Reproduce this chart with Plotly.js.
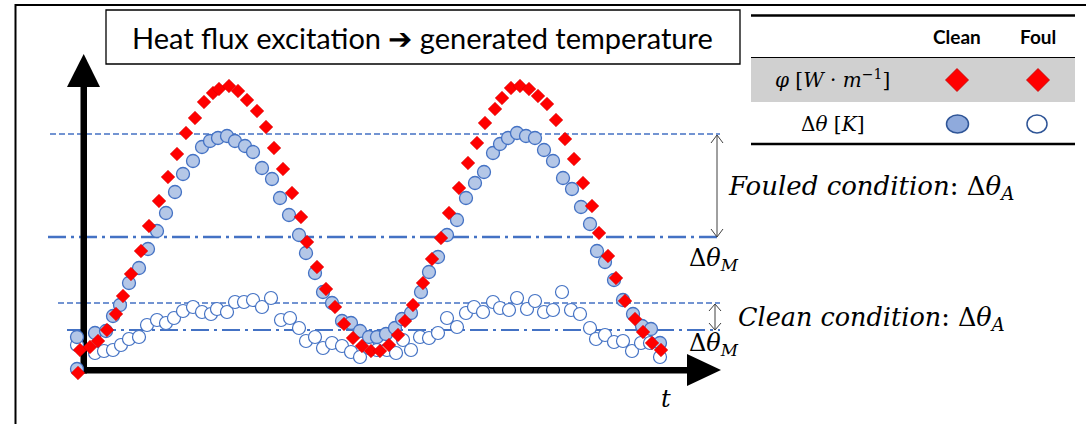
<!DOCTYPE html>
<html>
<head>
<meta charset="utf-8">
<script src="https://cdn.plot.ly/plotly-3.0.1.min.js"></script>
<style>html,body{margin:0;padding:0;background:#fff;}#chart{width:1086px;height:424px;}</style>
</head>
<body>
<div id="chart"></div>
<script>
// ---- data (time t, value v; arbitrary units) ----
const fluxT = [-2,0,10,18,27,36,43,51,61,69,79,88,97,106,115,124,133,139,149,158,167,177,186,194,203,212,221,227,237,246,255,264,273,282,291,300,309,318,325,333,343,352,361,369,379,388,397,405,415,422,431,440,449,458,467,476,485,494,503,512,519,528,536,545,555,563,572,581];
const fluxV = [-1,22,25,31,42,58,76,98,121,146,171,195,218,239,254,270,279,283,286,281,272,261,245,224,203,179,155,130,105,83,65,48,34,26,21,21,27,37,51,67,89,113,134,159,184,209,229,249,263,274,284,286,283,276,268,252,233,213,189,166,139,116,94,71,53,40,29,22];

const cleanT = [-3,-3,15,26,33,40,49,59,68,77,86,95,103,113,122,130,138,147,155,165,173,182,192,200,209,219,226,235,243,252,262,271,280,289,297,306,315,322,331,341,349,358,367,377,386,395,404,413,420,428,437,446,455,464,473,483,492,501,510,517,525,534,543,553,562,571,580];
const cleanV = [3,35,39,41,56,67,89,104,123,141,159,180,198,211,225,231,234,236,231,226,220,204,193,174,157,137,119,99,80,69,51,49,41,35,35,38,44,53,59,80,100,115,137,152,174,189,200,219,228,234,239,236,234,222,211,194,183,165,148,121,110,92,72,58,46,43,29];

const foulT = [-3,15,24,33,41,49,59,67,77,86,94,103,113,122,131,137,147,155,164,173,182,191,201,210,219,226,235,243,252,262,271,280,289,297,307,316,323,331,340,349,358,367,377,386,394,403,413,420,429,437,447,455,464,473,482,491,500,510,516,525,534,543,552,561,570,580];
const foulV = [27,19,21,22,27,33,35,47,52,49,54,61,65,60,58,63,60,70,70,72,65,74,52,54,44,31,35,24,29,26,20,15,24,22,22,19,32,22,35,34,39,54,45,59,65,60,70,64,62,74,63,71,60,62,80,62,58,44,33,37,30,31,21,29,29,15];

// reference levels (same value units)
const fouledMax = 238, fouledMean = 135;
const cleanMax = 69, cleanMean = 42;

// ---- geometry helpers (figure pixel -> axis units) ----
const W = 1086, H = 424, OX = 80, OY = 372;
const px = x => x - OX;
const py = y => OY - y;
const yp = v => OY - v; // value -> pixel y

const BLUE = '#4472C4';
const shapes = [];
const ann = [];

function line(x0,y0,x1,y1,color,width,dash,layer){
  shapes.push({type:'line',xref:'x',yref:'y',x0:px(x0),y0:py(y0),x1:px(x1),y1:py(y1),
    line:{color:color,width:width,dash:dash||'solid'},layer:layer||'below'});
}
function path(pts,fill,lcolor,lwidth,closed,layer){
  let d = pts.map((p,i)=>(i?'L':'M')+px(p[0])+','+py(p[1])).join(' ');
  if(closed) d += ' Z';
  shapes.push({type:'path',xref:'x',yref:'y',path:d,fillcolor:fill||'rgba(0,0,0,0)',
    line:{color:lcolor||'rgba(0,0,0,0)',width:lwidth||0},layer:layer||'below'});
}
function rect(x0,y0,x1,y1,fill,lcolor,lwidth,layer){
  shapes.push({type:'rect',xref:'x',yref:'y',x0:px(x0),y0:py(y0),x1:px(x1),y1:py(y1),
    fillcolor:fill||'rgba(0,0,0,0)',line:{color:lcolor||'rgba(0,0,0,0)',width:lwidth||0},layer:layer||'below'});
}
function ellipse(x0,y0,x1,y1,fill,lcolor,lwidth){
  shapes.push({type:'circle',xref:'x',yref:'y',x0:px(x0),y0:py(y0),x1:px(x1),y1:py(y1),
    fillcolor:fill,line:{color:lcolor,width:lwidth},layer:'above'});
}
function text(x,y,t,size,family,xanchor,color,extra){
  ann.push(Object.assign({xref:'x',yref:'y',x:px(x),y:py(y),text:t,showarrow:false,
    xanchor:xanchor||'center',yanchor:'middle',
    font:{size:size,family:family,color:color||'#000'}},extra||{}));
}

// outer frame
path([[15.5,424],[15.5,5],[1086,5]],null,'#000',2,false);
// title box
rect(106,10,740,64,'#fff','#000',1.3);
text(422,37,'Heat flux excitation ➔ generated temperature',29,'Lato, "Noto Sans", sans-serif');

// table
rect(751,57.5,1075,102,'#D0D0D0',null,0);
line(751,15.5,1075,15.5,'#000',2.5);
line(751,57.5,1075,57.5,'#000',1);
line(751,144,1075,144,'#000',2.5);
text(957,36,'<b>Clean</b>',19,'Lato, "Open Sans", sans-serif');
text(1038,36,'<b>Foul</b>',19,'Lato, "Open Sans", sans-serif');
const MATH = '"DejaVu Serif", serif';
text(832,79,'<i>φ</i> [<i>W</i> · <i>m</i><sup>−1</sup>]',20,MATH);
text(832,124,'Δ<i>θ</i> [<i>K</i>]',20,MATH);
path([[957,68.5],[968.5,80],[957,91.5],[945.5,80]],'#FF0000','#C00000',0.8,true,'above');
path([[1038,68.5],[1049.5,80],[1038,91.5],[1026.5,80]],'#FF0000','#C00000',0.8,true,'above');
ellipse(946.5,115,968.5,133,'#8FAADC','#2F5597',1.5);
ellipse(1027,115,1047,133,'#ffffff','#2F5597',1.5);

// reference level lines (values from the data levels)
line(50,yp(fouledMax),720,yp(fouledMax),BLUE,1.3,'6px,3px');
line(48,yp(fouledMean),720,yp(fouledMean),BLUE,2.3,'18px,5px,3px,5px');
line(58,yp(cleanMax),720,yp(cleanMax),BLUE,1.3,'6px,3px');
line(67,yp(cleanMean),720,yp(cleanMean),BLUE,2.1,'18px,5px,3px,5px');

// amplitude arrows
function dbl(x,y0,y1,hw,hh){
  line(x,y0,x,y1,'#404040',1);
  path([[x-hw,y0+hh],[x,y0],[x+hw,y0+hh]],null,'#404040',1,false);
  path([[x-hw,y1-hh],[x,y1],[x+hw,y1-hh]],null,'#404040',1,false);
}
dbl(717,yp(fouledMax)+1,yp(fouledMean),6,8);
dbl(715,yp(cleanMax)+1,yp(cleanMean),6,7);

// axes
rect(80.5,87,87,373.5,'#000',null,0);
path([[67,87],[100,87],[83.7,54]],'#000',null,0,true);
rect(80.5,367,690,373.5,'#000',null,0);
path([[687,354],[687,386],[721,370]],'#000',null,0,true);

// labels
text(726,187,'<i>Fouled condition</i>: Δ<i>θ</i><sub><i>A</i></sub>',26,MATH,'left');
text(736,318,'<i>Clean condition</i>: Δ<i>θ</i><sub><i>A</i></sub>',25.5,MATH,'left');
text(687,259,'Δ<i>θ</i><sub><i>M</i></sub>',24,MATH,'left');
text(687,344,'Δ<i>θ</i><sub><i>M</i></sub>',24,MATH,'left');
text(666,399,'<i>t</i>',24,MATH);

const traces = [
  {x:foulT,y:foulV,type:'scatter',mode:'markers',name:'Δθ foul',
   marker:{symbol:'circle',size:13,color:'#ffffff',line:{color:BLUE,width:1.2}},hoverinfo:'skip'},
  {x:cleanT,y:cleanV,type:'scatter',mode:'markers',name:'Δθ clean',
   marker:{symbol:'circle',size:13,color:'#B4C7E7',line:{color:BLUE,width:1.3}},hoverinfo:'skip'},
  {x:fluxT,y:fluxV,type:'scatter',mode:'markers',name:'φ',
   marker:{symbol:'diamond',size:10.5,color:'#FF0000',line:{color:'#D00000',width:0.5}},hoverinfo:'skip'}
];

const layout = {
  width:W,height:H,margin:{l:0,r:0,t:0,b:0,pad:0},
  paper_bgcolor:'#ffffff',plot_bgcolor:'rgba(0,0,0,0)',
  showlegend:false,
  xaxis:{range:[-OX,W-OX],visible:false,fixedrange:true,domain:[0,1]},
  yaxis:{range:[OY-H,OY],visible:false,fixedrange:true,domain:[0,1]},
  shapes:shapes,annotations:ann
};
Plotly.newPlot('chart',traces,layout,{displayModeBar:false,responsive:false});
</script>
</body>
</html>
